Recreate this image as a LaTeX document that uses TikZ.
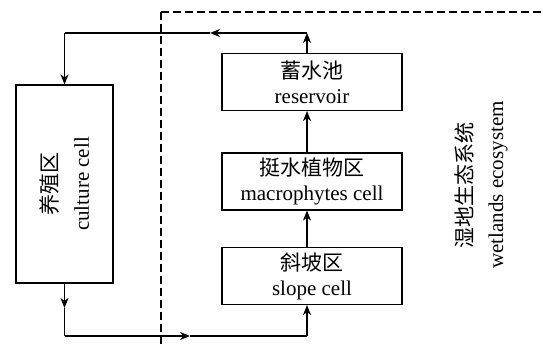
\documentclass[tikz,border=0pt]{standalone}
\usepackage{fontspec}
\setmainfont{Liberation Serif}
\newfontfamily\cjk{Noto Sans CJK SC}
\usetikzlibrary{arrows.meta}
\begin{document}
\begin{tikzpicture}[x=1pt,y=-1pt,
  box/.style={draw,line width=1.1pt,minimum width=180pt,minimum height=57pt,inner sep=0pt,align=center,font=\fontsize{21}{25}\selectfont},
  vtext/.style={rotate=90,align=center,inner sep=0pt,font=\fontsize{21}{31}\selectfont},
  flow/.style={line width=1.1pt},
  arr/.style={flow,-{Stealth[length=10pt,width=8pt,inset=3pt]}},
  zone/.style={line width=2.6pt,dash pattern=on 8pt off 4pt}]
\useasboundingbox (0,0) rectangle (543,345);
% boxes
\node[box] (res) at (312,82) {{\cjk 蓄水池}\\reservoir};
\node[box] (mac) at (312,181.5) {{\cjk 挺水植物区}\\macrophytes cell};
\node[box] (slo) at (312,276) {{\cjk 斜坡区}\\slope cell};
\node[draw,line width=1.1pt,minimum width=97pt,minimum height=198pt,inner sep=0pt] (cul) at (64.5,184) {};
\node[vtext] (cultxt) at (cul.center) {{\cjk 养殖区}\\culture cell};
\node[vtext] (wet) at (481,185) {{\cjk 湿地生态系统}\\wetlands ecosystem};
% dashed boundary
\coordinate (d1) at (161,345);
\coordinate (d2) at (161,12);
\coordinate (d3) at (543,12);
\draw[zone] (d2) -- (d1);
\draw[zone] (d2) -- (d3);
% top return path
\coordinate (t1) at (307,33);
\coordinate (t2) at (210,33);
\coordinate (t3) at (64.5,33);
\draw[arr] (t1 |- res.north) -- (t1);
\draw[arr] (t1) -- (t2);
\draw[flow] (t2) -- (t3);
\draw[arr] (t3) -- (cul.north);
% bottom path
\coordinate (bm) at (64.5,308);
\coordinate (b1) at (64.5,336);
\coordinate (b2) at (190,336);
\coordinate (b3) at (307,336);
\draw[arr] (cul.south) -- (bm);
\draw[flow] (bm) -- (b1);
\draw[arr] (b1) -- (b2);
\draw[flow] (b2) -- (b3);
\draw[arr] (b3) -- (b3 |- slo.south);
% internal flows
\draw[arr] (b3 |- slo.north) -- (b3 |- mac.south);
\draw[arr] (b3 |- mac.north) -- (b3 |- res.south);
\end{tikzpicture}
\end{document}
